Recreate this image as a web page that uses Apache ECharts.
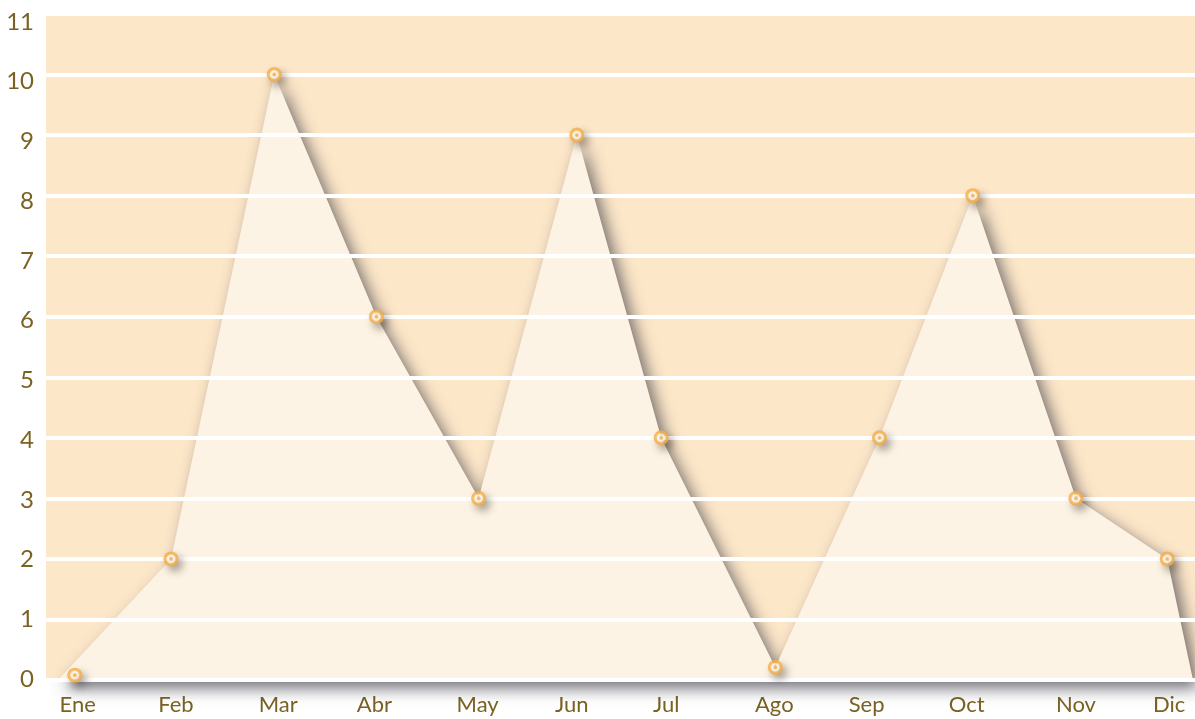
<!DOCTYPE html>
<html>
<head>
<meta charset="utf-8">
<script src="https://cdn.jsdelivr.net/npm/echarts@6/dist/echarts.min.js"></script>
<style>
html,body{margin:0;padding:0;background:#fff;}
#c{width:1195px;height:719px;}
</style>
</head>
<body>
<div id="c"></div>
<script>
const months = ['Ene','Feb','Mar','Abr','May','Jun','Jul','Ago','Sep','Oct','Nov','Dic'];
const values = [0.08, 2, 10, 6, 3, 9, 4, 0.21, 4, 8, 3, 2];
// horizontal position of each point, in month units
const xPos = [0, 0.97, 2.01, 3.04, 4.07, 5.06, 5.91, 7.06, 8.11, 9.05, 10.09, 11.01];
// horizontal position of each month label
const labelPos = [0.03, 1.02, 2.05, 3.02, 4.06, 5.01, 5.96, 7.05, 7.98, 8.99, 10.09, 11.03];
const yTicks = [0, 1, 2, 3, 4, 5, 6, 7, 8, 9, 10, 11];
const areaStart = [-0.17, 0];
const areaEnd = [11.27, 0];

const pointData = values.map((v, i) => [xPos[i], v]);
const areaData = [areaStart].concat(pointData.slice(1)).concat([areaEnd]);

const chart = echarts.init(document.getElementById('c'));
const font = 'Lato, "Open Sans", sans-serif';
chart.setOption({
  animation: false,
  backgroundColor: '#ffffff',
  grid: {left: 46, right: 0, top: 14, bottom: 39, show: true, backgroundColor: '#fde7c9', borderWidth: 0},
  xAxis: {
    type: 'value', min: -0.29, max: 11.29,
    axisLine: {show: false}, axisTick: {show: false}, splitLine: {show: false},
    axisLabel: {
      customValues: labelPos,
      formatter: v => months[labelPos.indexOf(v)],
      color: '#7a6222', fontSize: 22, fontFamily: font, margin: 14
    }
  },
  yAxis: [
    {
      type: 'value', min: 0, max: 11, interval: 1, z: 3,
      axisLine: {show: false}, axisTick: {show: false},
      splitLine: {show: true, lineStyle: {color: '#ffffff', width: 4}},
      axisLabel: {show: false}
    },
    {
      // label-only axis: the reference's tick labels sit on a slightly wider spread than its grid lines
      type: 'value', min: -0.017, max: 11.134, position: 'left',
      axisLine: {show: false}, axisTick: {show: false}, splitLine: {show: false},
      axisLabel: {customValues: yTicks, color: '#7a6222', fontSize: 24, fontFamily: font, margin: 12,
        formatter: v => String(Math.round(v))}
    }
  ],
  series: [
    {
      type: 'line', data: areaData, symbol: 'none', z: 2, clip: false,
      lineStyle: {width: 0, color: 'transparent'},
      areaStyle: {color: '#fdf3e4', opacity: 1, shadowColor: 'rgba(45,45,60,0.7)', shadowBlur: 16, shadowOffsetX: 6, shadowOffsetY: 8}
    },
    {
      type: 'scatter', data: pointData, symbol: 'circle', symbolSize: 15, z: 5,
      itemStyle: {
        color: {type: 'radial', x: 0.5, y: 0.5, r: 0.5, colorStops: [
          {offset: 0, color: '#f7a23a'},
          {offset: 0.2, color: '#f9c277'},
          {offset: 0.35, color: '#ffffff'},
          {offset: 0.5, color: '#fff4e2'},
          {offset: 0.65, color: '#f9b853'},
          {offset: 1, color: '#f5a63e'}
        ]},
        shadowColor: 'rgba(50,40,30,0.55)', shadowBlur: 9, shadowOffsetX: 4, shadowOffsetY: 5
      }
    }
  ]
});
</script>
</body>
</html>
